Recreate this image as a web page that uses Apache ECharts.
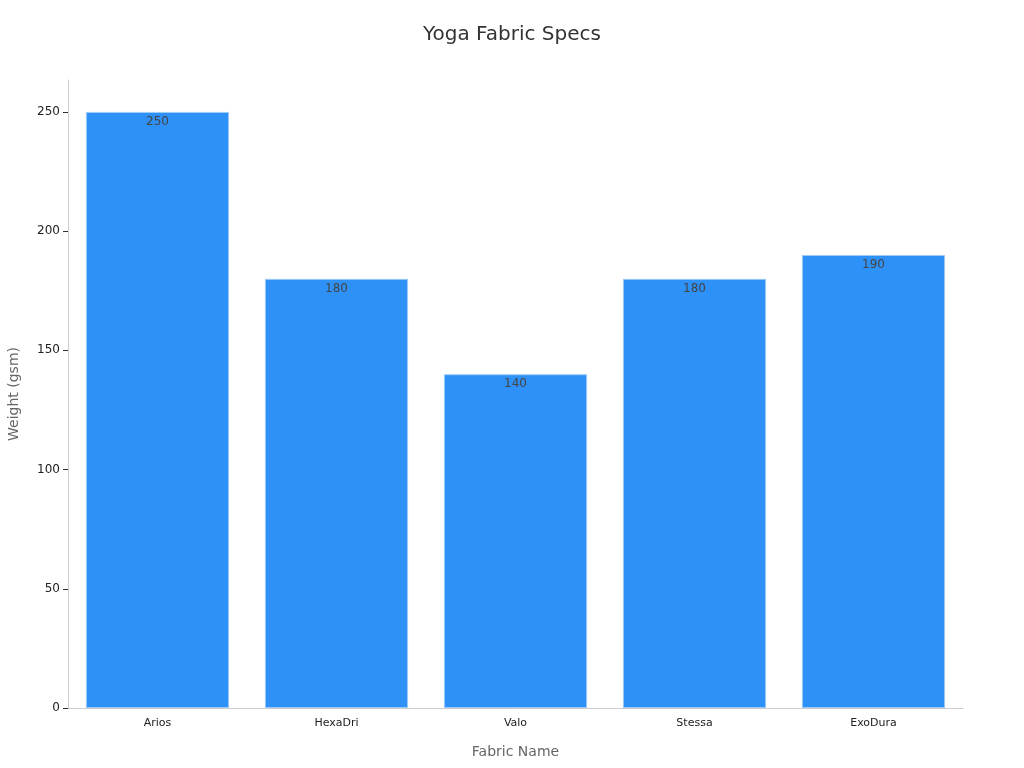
<!DOCTYPE html>
<html lang="en">
<head>
<meta charset="UTF-8">
<title>Yoga Fabric Specs</title>
<script src="https://cdn.jsdelivr.net/npm/echarts@6/dist/echarts.min.js"></script>
<style>
  html, body { margin: 0; padding: 0; background: #fff; }
  #chart { width: 1024px; height: 768px; }
</style>
</head>
<body>
<div id="chart"></div>
<script>
var fabrics = ['Arios', 'HexaDri', 'Valo', 'Stessa', 'ExoDura'];
var weights = [250, 180, 140, 180, 190];
var yTicks = [0, 50, 100, 150, 200, 250];

var chart = echarts.init(document.getElementById('chart'));

var option = {
  backgroundColor: '#fff',
  textStyle: { fontFamily: 'DejaVu Sans' },
  title: {
    text: 'Yoga Fabric Specs',
    left: 'center',
    top: 20,
    textStyle: { fontSize: 20, fontWeight: 'normal', color: '#333', fontFamily: 'DejaVu Sans' }
  },
  grid: { left: 68, right: 61, top: 80, bottom: 60, outerBoundsMode: 'none', containLabel: false },
  xAxis: {
    type: 'category',
    data: fabrics,
    name: 'Fabric Name',
    nameLocation: 'middle',
    nameGap: 37,
    nameTextStyle: { fontSize: 14, color: '#666' },
    axisLine: { lineStyle: { color: '#ccc' } },
    axisTick: { alignWithLabel: true, lineStyle: { color: '#333' } },
    axisLabel: { fontSize: 11, color: '#222', margin: 10 }
  },
  yAxis: {
    type: 'value',
    min: 0,
    max: 263.4,
    name: 'Weight (gsm)',
    nameLocation: 'middle',
    nameGap: 47,
    nameTextStyle: { fontSize: 14, color: '#666' },
    axisLine: { show: true, lineStyle: { color: '#ccc' } },
    axisTick: { show: true, customValues: yTicks, lineStyle: { color: '#333' } },
    axisLabel: { fontSize: 12, color: '#222', customValues: yTicks },
    splitLine: { show: false }
  },
  series: [{
    type: 'bar',
    data: weights,
    barCategoryGap: '20%',
    itemStyle: { color: '#2e91f7', borderColor: '#9dcaf9', borderWidth: 1 },
    label: {
      show: true,
      position: 'insideTop',
      distance: 4,
      fontSize: 12,
      color: '#444'
    }
  }]
};

chart.setOption(option);
</script>
</body>
</html>
